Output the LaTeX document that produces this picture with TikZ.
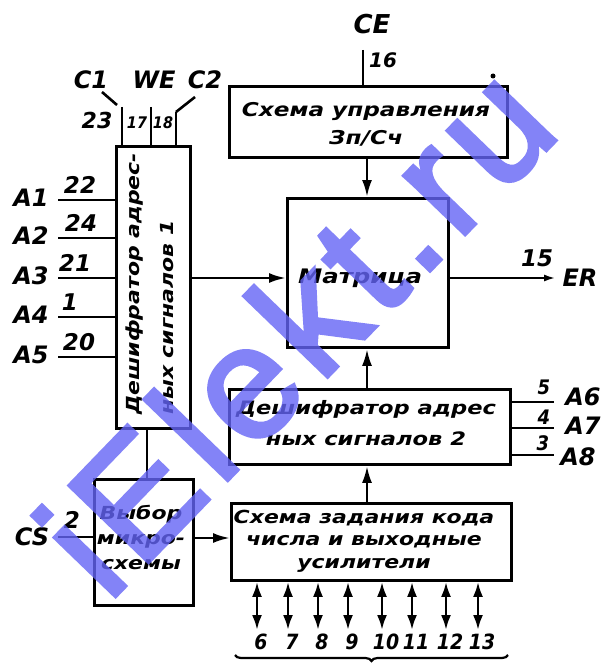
\documentclass[tikz,border=0pt]{standalone}
\usepackage{fontspec}
\usetikzlibrary{arrows.meta,decorations.pathreplacing}
\newfontfamily\gbox[FakeStretch=1.22]{DejaVu Sans}
\newfontfamily\glab{DejaVu Sans}
\newfontfamily\gcond{DejaVu Sans Condensed}
\newfontfamily\wmfont[LetterSpace=6,FakeBold=2.5]{Liberation Sans}
\definecolor{wmblue}{RGB}{100,100,245}
\begin{document}
\begin{tikzpicture}[x=1pt,y=-1pt,
  box/.style={draw, line width=2.9pt, inner sep=0pt, anchor=north west},
  btxt/.style={font=\gbox\bfseries\itshape\fontsize{19}{28}\selectfont, align=center, inner sep=0pt},
  lab/.style={font=\glab\bfseries\itshape\fontsize{24}{24}\selectfont, inner sep=0pt},
  num/.style={font=\glab\bfseries\itshape\fontsize{23}{23}\selectfont, inner sep=0pt},
  cnum/.style={font=\gcond\bfseries\itshape\fontsize{20}{20}\selectfont, inner sep=0pt},
  wire/.style={line width=2.6pt},
  arr/.style={wire, -{Latex[length=17pt,width=10pt]}},
  dbl/.style={wire, {Latex[length=15pt,width=10pt]}-{Latex[length=15pt,width=10pt]}},
  wm/.style={font=\wmfont\fontsize{160}{160}\selectfont, text=wmblue, inner sep=0pt}
]
\useasboundingbox (0,0) rectangle (606,663);
\clip (0,0) rectangle (606,663);

% boxes
\node[box, minimum width=278pt, minimum height=71pt] (ctrl) at (228,85) {};
\node[box, minimum width=161pt, minimum height=149pt] (mat) at (286,197) {};
\node[box, minimum width=281pt, minimum height=75pt] (dec2) at (228,388) {};
\node[box, minimum width=280pt, minimum height=77pt] (sz) at (230,502) {};
\node[box, minimum width=74pt, minimum height=282pt] (dec1) at (115,145) {};
\node[box, minimum width=99pt, minimum height=126pt] (cs) at (93,478) {};

% box texts
\node[btxt] (ctrlt) at (366,124) {Схема управления\\Зп/Сч};
\node[btxt, font=\gbox\bfseries\itshape\fontsize{20}{28}\selectfont] (matt) at (360,278) {Матрица};
\node[btxt, font=\gbox\bfseries\itshape\fontsize{18.5}{31}\selectfont] (dec2t) at (366,423) {Дешифратор адрес\\ных сигналов 2};
\node[btxt, font=\gbox\bfseries\itshape\fontsize{18}{22.5}\selectfont] (szt) at (364,541) {Схема задания кода\\числа и выходные\\усилители};
\node[btxt, font=\gbox\bfseries\itshape\fontsize{18}{25}\selectfont] (cst) at (141,537) {Выбор\\микро-\\схемы};
\node[btxt, align=left, rotate=90, font=\gbox\bfseries\itshape\fontsize{18}{34}\selectfont] (dec1t) at (150,284) {Дешифратор адрес-\\ных сигналов 1};

% CE input
\coordinate (ce) at (363,50);
\draw[wire] (ce) -- (ce |- ctrl.north);
\node[lab, font=\glab\bfseries\itshape\fontsize{26}{26}\selectfont] (cel) at (372,24) {CE};
\node[num, font=\glab\bfseries\itshape\fontsize{20}{20}\selectfont] (n16) at (383,60) {16};
\coordinate (dot) at (493,76);
\fill (dot) circle (2.5pt);

% vertical arrows through centre column
\coordinate (vx) at (367,0);
\draw[arr] (vx |- ctrl.south) -- (vx |- mat.north);
\draw[arr] (vx |- dec2.north) -- (vx |- mat.south);
\draw[arr] (vx |- sz.north) -- (vx |- dec2.south);

% dec1 -> matrix
\coordinate (my) at (0,278);
\draw[arr] (my -| dec1.east) -- (my -| mat.west);

% matrix -> ER
\coordinate (er) at (556,278);
\draw[wire, -{Latex[length=12pt,width=7pt]}] (er -| mat.east) -- (er);
\node[num] (n15) at (537,258) {15};
\node[lab] (erl) at (580,278) {ER};

% A6-A8
\coordinate (a6) at (554,402);
\coordinate (a7) at (554,428);
\coordinate (a8) at (554,455);
\draw[wire] (a6 -| dec2.east) -- (a6);
\draw[wire] (a7 -| dec2.east) -- (a7);
\draw[wire] (a8 -| dec2.east) -- (a8);
\node[cnum] (n5) at (544,387) {5};
\node[cnum] (n4) at (544,417) {4};
\node[cnum] (n3) at (543,443) {3};
\node[lab] (a6l) at (583,397) {A6};
\node[lab] (a7l) at (583,426) {A7};
\node[lab] (a8l) at (578,457) {A8};

% A1-A5
\foreach \y/\a/\n/\nx in {200/1/22/80, 238/2/24/81, 278/3/21/75, 317/4/1/70, 357/5/20/79}{
  \coordinate (ai\a) at (58,\y);
  \draw[wire] (ai\a) -- (ai\a -| dec1.west);
  \node[lab] (al\a) at (31,\y-2) {A\a};
  \node[num, anchor=south] (an\a) at (\nx,\y-6) {\n};
}

% top inputs of dec1
\coordinate (t1) at (122,107);
\coordinate (t2) at (151,107);
\coordinate (t3) at (176,112);
\draw[wire] (t1) -- (t1 |- dec1.north);
\draw[wire] (t2) -- (t2 |- dec1.north);
\draw[wire] (t3) -- (t3 |- dec1.north);
\coordinate (c1a) at (102,92);
\coordinate (c1b) at (117,105);
\coordinate (c2a) at (195,97);
\coordinate (c2b) at (t3);
\draw[wire] (c1a) -- (c1b);
\draw[wire] (c2a) -- (c2b);
\node[lab] (c1l) at (91,80) {C1};
\node[lab] (wel) at (154,80) {WE};
\node[lab] (c2l) at (205,80) {C2};
\node[num, font=\glab\bfseries\itshape\fontsize{22}{22}\selectfont] (n23) at (97,120) {23};
\node[cnum, font=\gcond\bfseries\itshape\fontsize{16}{16}\selectfont] (n17) at (137,123) {17};
\node[cnum, font=\gcond\bfseries\itshape\fontsize{16}{16}\selectfont] (n18) at (163,123) {18};

% dec1 -> cs
\coordinate (dx) at (147,0);
\draw[wire] (dx |- dec1.south) -- (dx |- cs.north);

% CS input
\coordinate (csi) at (58,537);
\draw[wire] (csi) -- (csi -| cs.west);
\node[lab] (csl) at (32,537) {CS};
\node[num] (n2) at (72,520) {2};

% cs -> sz
\coordinate (csy) at (0,538);
\draw[arr] (csy -| cs.east) -- (csy -| sz.west);

% bottom bidirectional arrows
\foreach \x/\n in {257/6, 288/7, 318/8, 348/9, 382/10, 412/11, 446/12, 478/13}{
  \coordinate (b\n) at (\x,630);
  \draw[dbl] (b\n |- sz.south) -- (b\n);
  \node[cnum, font=\gcond\bfseries\itshape\fontsize{21}{21}\selectfont] (bl\n) at (\x+4,642) {\n};
}
\coordinate (br1) at (235,655);
\coordinate (br2) at (508,655);
\draw[wire, line width=2.2pt, decorate, decoration={brace, mirror, amplitude=6pt}] (br1) -- (br2);

% watermark
\begin{scope}[opacity=0.8, transparency group]
\node[wm, rotate=46, anchor=base west] (wmk) at (108,604) {iElekt.ru};
\end{scope}
\end{tikzpicture}
\end{document}
